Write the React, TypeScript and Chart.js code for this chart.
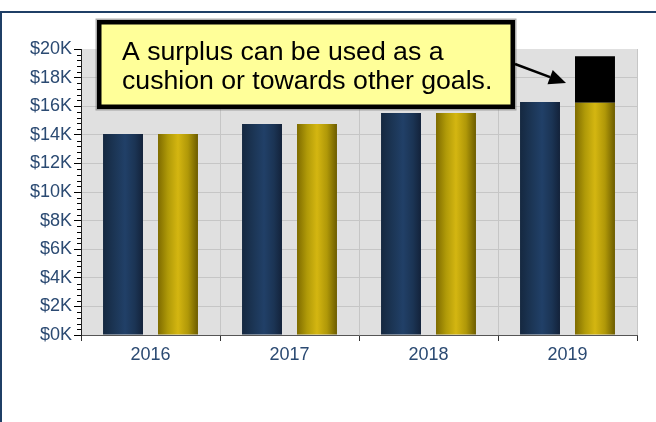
import React, { useEffect, useRef } from "react";
import { Chart, registerables } from "chart.js";

Chart.register(...registerables);

const categories = ["2016", "2017", "2018", "2019"];
const expenses = [14060, 14750, 15520, 16300];
const income = [14060, 14750, 15520, 16250];
const surplus = [0, 0, 0, 3250];
const yMax = 20000;
const yStep = 2000;
const yMinorStep = 400;
const noteLines = ["A surplus can be used as a", "cushion or towards other goals."];

const FONT = "'Liberation Sans', Arial, sans-serif";
const LABEL_COLOR = "#2b4a72";

const gradients: Record<string, [number, string][]> = {
  blue: [
    [0, "#152840"],
    [0.3, "#1c3656"],
    [0.55, "#214068"],
    [0.8, "#1b3454"],
    [1, "#13223a"],
  ],
  gold: [
    [0, "#7e6b00"],
    [0.25, "#b09a08"],
    [0.5, "#d4b611"],
    [0.75, "#b09808"],
    [1, "#6c5c00"],
  ],
};

const customPlugin = {
  id: "custom",
  beforeDraw(chart: any) {
    const { ctx, chartArea: a } = chart;
    ctx.save();
    ctx.fillStyle = "#e0e0e0";
    ctx.fillRect(a.left, a.top, a.right - a.left, a.bottom - a.top);
    ctx.restore();
  },
  beforeDatasetsDraw(chart: any) {
    const { ctx } = chart;
    chart.data.datasets.forEach((ds: any, i: number) => {
      const stops = gradients[ds.kind];
      if (!stops) return;
      chart.getDatasetMeta(i).data.forEach((el: any) => {
        const { x, width } = el.getProps(["x", "width"], true);
        const g = ctx.createLinearGradient(x - width / 2, 0, x + width / 2, 0);
        stops.forEach(([o, c]) => g.addColorStop(o, c));
        el.options.backgroundColor = g;
      });
    });
  },
  afterDraw(chart: any) {
    const { ctx } = chart;
    const y = chart.scales.y;
    // minor ticks
    ctx.save();
    ctx.strokeStyle = "#000";
    ctx.lineWidth = 1;
    for (let v = 0; v <= yMax; v += yMinorStep) {
      if (v % yStep === 0) continue;
      const py = Math.round(y.getPixelForValue(v)) + 0.5;
      ctx.beginPath();
      ctx.moveTo(y.right - 4, py);
      ctx.lineTo(y.right, py);
      ctx.stroke();
    }
    ctx.restore();

    // annotation box
    const bx = 97, by = 20, bw = 418, bh = 89;
    ctx.save();
    ctx.fillStyle = "rgba(120,120,120,0.6)";
    ctx.fillRect(bx - 1.5, by - 1.5, bw + 3, bh + 3);
    ctx.fillStyle = "#000";
    ctx.fillRect(bx, by, bw, bh);
    ctx.fillStyle = "#ffff99";
    ctx.fillRect(bx + 4.5, by + 4.5, bw - 9, bh - 9);
    ctx.fillStyle = "#000";
    ctx.font = `25px ${FONT}`;
    ctx.textBaseline = "alphabetic";
    ctx.textAlign = "left";
    ctx.save();
    ctx.translate(122, 0);
    ctx.scale(1.066, 1);
    ctx.fillText(noteLines[0], 0, 60);
    ctx.fillText(noteLines[1], 0, 89);
    ctx.restore();

    // arrow to surplus
    const sMeta = chart.getDatasetMeta(2);
    const el: any = sMeta.data[3];
    if (el) {
      const p = el.getProps(["x", "y", "base", "width"], true);
      const tipX = p.x - p.width / 2 - 9;
      const tipY = p.y + (p.base - p.y) * 0.58;
      const sx = bx + bw, sy = 64;
      const dx = tipX - sx, dy = tipY - sy;
      const len = Math.hypot(dx, dy);
      const ux = dx / len, uy = dy / len;
      const hl = 17, hw = 7.5;
      const baseX = tipX - ux * hl, baseY = tipY - uy * hl;
      ctx.strokeStyle = "#000";
      ctx.lineWidth = 2.5;
      ctx.beginPath();
      ctx.moveTo(sx, sy);
      ctx.lineTo(baseX, baseY);
      ctx.stroke();
      ctx.beginPath();
      ctx.moveTo(tipX, tipY);
      ctx.lineTo(baseX - uy * hw, baseY + ux * hw);
      ctx.lineTo(baseX + uy * hw, baseY - ux * hw);
      ctx.closePath();
      ctx.fill();
    }
    ctx.restore();
  },
};

export default function App() {
  const ref = useRef<HTMLCanvasElement | null>(null);

  useEffect(() => {
    if (!ref.current) return;
    const chart = new Chart(ref.current, {
      type: "bar",
      data: {
        labels: categories,
        datasets: [
          {
            label: "Expenses",
            kind: "blue",
            data: expenses,
            stack: "exp",
            backgroundColor: () => "#1f3d63",
            borderWidth: 0,
          } as any,
          {
            label: "Income",
            kind: "gold",
            data: income,
            stack: "inc",
            backgroundColor: () => "#c8ab10",
            borderWidth: 0,
          } as any,
          {
            label: "Surplus",
            data: surplus,
            stack: "inc",
            backgroundColor: "#000000",
            borderWidth: 0,
          } as any,
        ],
      },
      options: {
        animation: false,
        responsive: false,
        maintainAspectRatio: false,
        devicePixelRatio: 1,
        categoryPercentage: 0.791,
        barPercentage: 0.727,
        layout: { padding: { top: 49, right: 19, left: 0, bottom: 0 } },
        plugins: {
          legend: { display: false },
          tooltip: { enabled: false },
          title: { display: false },
        },
        scales: {
          x: {
            stacked: true,
            grid: {
              offset: true,
              color: (c: any) =>
                c.index === 0 || c.index === categories.length ? "rgba(0,0,0,0)" : "#c6c6c6",
              tickColor: "#333",
              tickLength: 6,
              lineWidth: 1,
            },
            border: { color: "#555", width: 1 },
            ticks: { color: LABEL_COLOR, font: { size: 18, family: FONT }, padding: 3 },
            afterFit: (s: any) => {
              s.height = 87;
            },
          },
          y: {
            stacked: true,
            min: 0,
            max: yMax,
            ticks: {
              stepSize: yStep,
              color: LABEL_COLOR,
              font: { size: 18, family: FONT },
              padding: 2,
              callback: (v: any) => "$" + Number(v) / 1000 + "K",
            },
            grid: {
              color: (c: any) => (c.tick && c.tick.value === yMax ? "rgba(0,0,0,0)" : "#c6c6c6"),
              tickColor: "#000",
              tickLength: 7,
            },
            border: { color: "#222", width: 1 },
            afterFit: (s: any) => {
              s.width = 81;
            },
          },
        },
      } as any,
      plugins: [customPlugin],
    });
    return () => chart.destroy();
  }, []);

  return (
    <div
      style={{
        position: "fixed",
        left: 0,
        top: 0,
        width: 656,
        height: 422,
        overflow: "hidden",
        background: "#fff",
      }}
    >
      <div
        style={{
          position: "absolute",
          left: 0,
          top: 11,
          width: 720,
          height: 500,
          borderTop: "2px solid #1f3f66",
          borderLeft: "2px solid #1f3f66",
        }}
      />
      <canvas
        ref={ref}
        width={656}
        height={422}
        style={{ position: "absolute", left: 0, top: 0, width: 656, height: 422 }}
      />
    </div>
  );
}
